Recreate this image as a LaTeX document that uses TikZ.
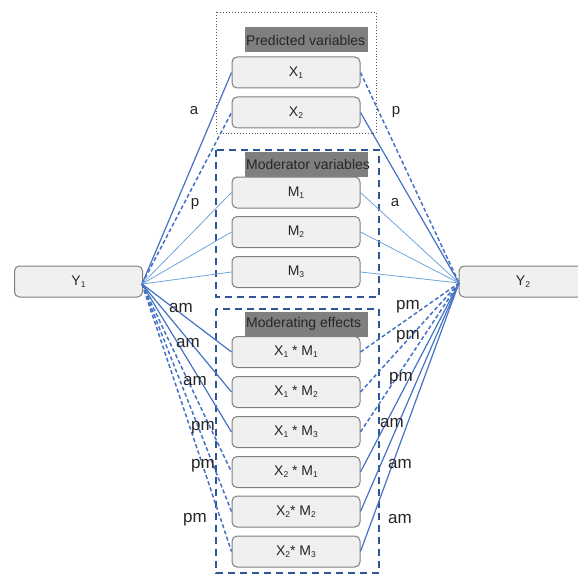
\documentclass[tikz,border=0pt]{standalone}
\usepackage{fontspec}
\setmainfont{Liberation Sans}
\newcommand\ssub[1]{\raisebox{-0.3ex}{\fontsize{8.5}{9}\selectfont #1}}
\definecolor{boxfill}{HTML}{F0F0F0}
\definecolor{boxline}{HTML}{7F7F7F}
\definecolor{headfill}{HTML}{7F7F7F}
\definecolor{ink}{HTML}{262626}
\definecolor{pathblue}{HTML}{4472C4}
\definecolor{lightpath}{HTML}{6FA3DC}
\definecolor{framblue}{HTML}{2F5597}
\begin{document}
\begin{tikzpicture}[x=1pt,y=-1pt,
  var/.style={draw=boxline, fill=boxfill, rounded corners=5pt, line width=1pt,
    minimum width=128pt, minimum height=31pt, inner sep=0pt,
    font=\fontsize{14}{14}\selectfont, text=ink},
  headbar/.style={fill=headfill, minimum width=123pt, minimum height=25pt, inner sep=0pt},
  headtext/.style={anchor=west, inner sep=1pt, font=\fontsize{14}{14}\selectfont, text=ink},
  groupframe/.style={draw=framblue, line width=2pt, dash pattern=on 7pt off 5pt},
  dotframe/.style={draw=black!65, line width=0.9pt, dotted},
  solidpath/.style={draw=pathblue, line width=1.2pt},
  dashpath/.style={draw=pathblue, line width=1.5pt, dash pattern=on 4pt off 2.5pt},
  lightline/.style={draw=lightpath, line width=0.8pt},
  coef/.style={font=\fontsize{15}{15}\selectfont, text=ink, inner sep=0pt},
  coefm/.style={font=\fontsize{17}{17}\selectfont, text=ink, inner sep=0pt}
]
\clip (0,0) rectangle (578,575);

% group frames
\draw[dotframe] (216,12) rectangle (376,133);
\draw[groupframe] (216,150) rectangle (379,297);
\draw[groupframe] (216,309) rectangle (379,573);

% group headers
\node[headbar] (hP) at (306.5,40) {};
\node[headtext] (tP) at (245,40) {Predicted variables};
\node[headbar] (hM) at (306.5,164.5) {};
\node[headtext] (tM) at (245,164.5) {Moderator variables};
\node[headbar] (hE) at (306.5,324) {};
\node[headtext] (tE) at (245,324) {Moderating effects};

% outcome variables
\node[var] (Y1) at (78.5,281.5) {Y\ssub{1}};
\node[var] (Y2) at (523,281.5) {Y\ssub{2}};
\coordinate (y1c) at (142,284);
\coordinate (y2c) at (459,283);

% predictors
\node[var] (X1) at (296,72.5) {X\ssub{1}};
\node[var] (X2) at (296,112.5) {X\ssub{2}};

% moderators
\node[var] (M1) at (296,192.5) {M\ssub{1}};
\node[var] (M2) at (296,232) {M\ssub{2}};
\node[var] (M3) at (296,272) {M\ssub{3}};

% interaction terms
\node[var] (E11) at (296,352) {X\ssub{1} * M\ssub{1}};
\node[var] (E12) at (296,392) {X\ssub{1} * M\ssub{2}};
\node[var] (E13) at (296,432) {X\ssub{1} * M\ssub{3}};
\node[var] (E21) at (296,472) {X\ssub{2} * M\ssub{1}};
\node[var] (E22) at (296,511.5) {X\ssub{2}* M\ssub{2}};
\node[var] (E23) at (296,551.5) {X\ssub{2}* M\ssub{3}};

% paths from Y1
\draw[solidpath] (y1c) -- (X1.west);
\draw[dashpath] (y1c) -- (X2.west);
\foreach \m in {M1,M2,M3} \draw[lightline] (y1c) -- (\m.west);
\foreach \e in {E11,E12,E13} \draw[solidpath] (y1c) -- (\e.west);
\foreach \e in {E21,E22,E23} \draw[dashpath] (y1c) -- (\e.west);

% paths to Y2
\draw[dashpath] (X1.east) -- (y2c);
\draw[solidpath] (X2.east) -- (y2c);
\foreach \m in {M1,M2,M3} \draw[lightline] (\m.east) -- (y2c);
\foreach \e in {E11,E12,E13} \draw[dashpath] (\e.east) -- (y2c);
\foreach \e in {E21,E22,E23} \draw[solidpath] (\e.east) -- (y2c);

% path labels, left side
\node[coef] (la1) at (194,111) {a};
\node[coef] (lp1) at (195,204) {p};
\node[coefm] (lam1) at (181,308) {am};
\node[coefm] (lam2) at (188,343) {am};
\node[coefm] (lam3) at (195,381) {am};
\node[coefm] (lpm1) at (203,428) {pm};
\node[coefm] (lpm2) at (203,466) {pm};
\node[coefm] (lpm3) at (195,520) {pm};

% path labels, right side
\node[coef] (rp1) at (396,112) {p};
\node[coef] (ra1) at (395,203) {a};
\node[coefm] (rpm1) at (408,307) {pm};
\node[coefm] (rpm2) at (408,337) {pm};
\node[coefm] (rpm3) at (401,379) {pm};
\node[coefm] (ram1) at (392,423) {am};
\node[coefm] (ram2) at (400,464) {am};
\node[coefm] (ram3) at (400,519) {am};
\end{tikzpicture}
\end{document}
